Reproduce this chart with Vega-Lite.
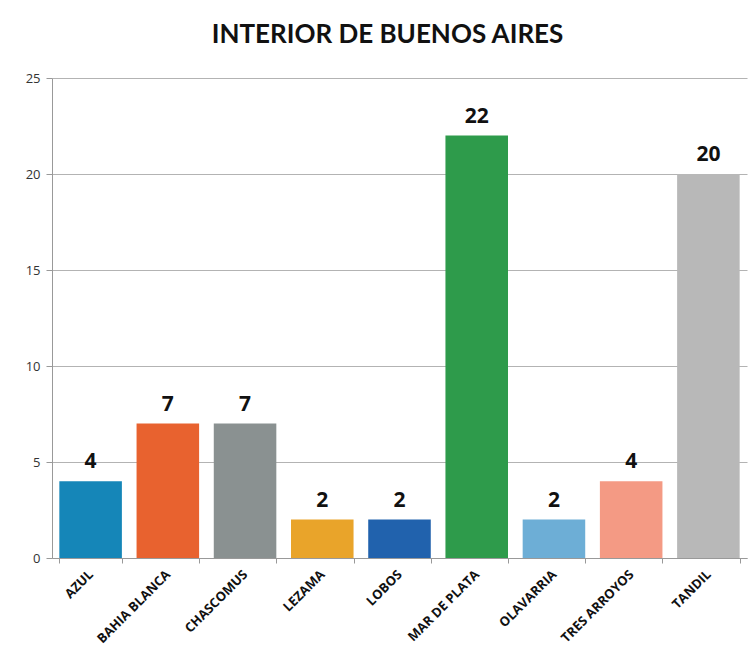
{
  "$schema": "https://vega.github.io/schema/vega-lite/v6.json",
  "autosize": {"type": "none"},
  "width": 695,
  "height": 480,
  "padding": {"left": 52, "top": 78, "right": 5, "bottom": 104},
  "background": "white",
  "title": {
    "text": "INTERIOR DE BUENOS AIRES",
    "font": "Lato",
    "fontSize": 26,
    "fontWeight": "bold",
    "color": "#111111",
    "anchor": "middle",
    "dx": -12,
    "offset": 24
  },
  "data": {
    "values": [
      {"ciudad": "AZUL", "valor": 4},
      {"ciudad": "BAHIA BLANCA", "valor": 7},
      {"ciudad": "CHASCOMUS", "valor": 7},
      {"ciudad": "LEZAMA", "valor": 2},
      {"ciudad": "LOBOS", "valor": 2},
      {"ciudad": "MAR DE PLATA", "valor": 22},
      {"ciudad": "OLAVARRIA", "valor": 2},
      {"ciudad": "TRES ARROYOS", "valor": 4},
      {"ciudad": "TANDIL", "valor": 20}
    ]
  },
  "encoding": {
    "x": {
      "field": "ciudad",
      "type": "nominal",
      "sort": null,
      "scale": {"paddingInner": 0.19, "paddingOuter": 0.095},
      "axis": {
        "title": null,
        "labelAngle": -45,
        "labelAlign": "right",
        "labelBaseline": "middle",
        "labelFont": "Open Sans",
        "labelFontSize": 13,
        "labelFontWeight": "bold",
        "labelColor": "#111111",
        "labelPadding": 9,
        "tickBand": "extent",
        "tickColor": "#999999",
        "tickSize": 5,
        "domainColor": "#999999",
        "grid": false
      }
    },
    "y": {
      "field": "valor",
      "type": "quantitative",
      "scale": {"domain": [0, 25], "nice": false},
      "axis": {
        "title": null,
        "values": [0, 5, 10, 15, 20, 25],
        "labelFont": "Open Sans",
        "labelFontSize": 13,
        "labelColor": "#333333",
        "labelPadding": 6,
        "tickColor": "#999999",
        "tickSize": 6,
        "domainColor": "#999999",
        "gridColor": "#b3b3b3",
        "gridWidth": 1
      }
    }
  },
  "layer": [
    {
      "mark": {"type": "bar"},
      "encoding": {
        "color": {
          "field": "ciudad",
          "type": "nominal",
          "sort": null,
          "legend": null,
          "scale": {
            "domain": ["AZUL", "BAHIA BLANCA", "CHASCOMUS", "LEZAMA", "LOBOS", "MAR DE PLATA", "OLAVARRIA", "TRES ARROYOS", "TANDIL"],
            "range": ["#1586B8", "#E8622F", "#8A9191", "#E9A42A", "#2162AD", "#2E9B4B", "#6DAED6", "#F49A84", "#B8B8B8"]
          }
        }
      }
    },
    {
      "mark": {"type": "text", "font": "Open Sans", "fontSize": 21, "fontWeight": "bold", "color": "#111111", "baseline": "bottom", "dy": -9},
      "encoding": {"text": {"field": "valor", "type": "quantitative"}}
    }
  ],
  "config": {"view": {"stroke": null}}
}
